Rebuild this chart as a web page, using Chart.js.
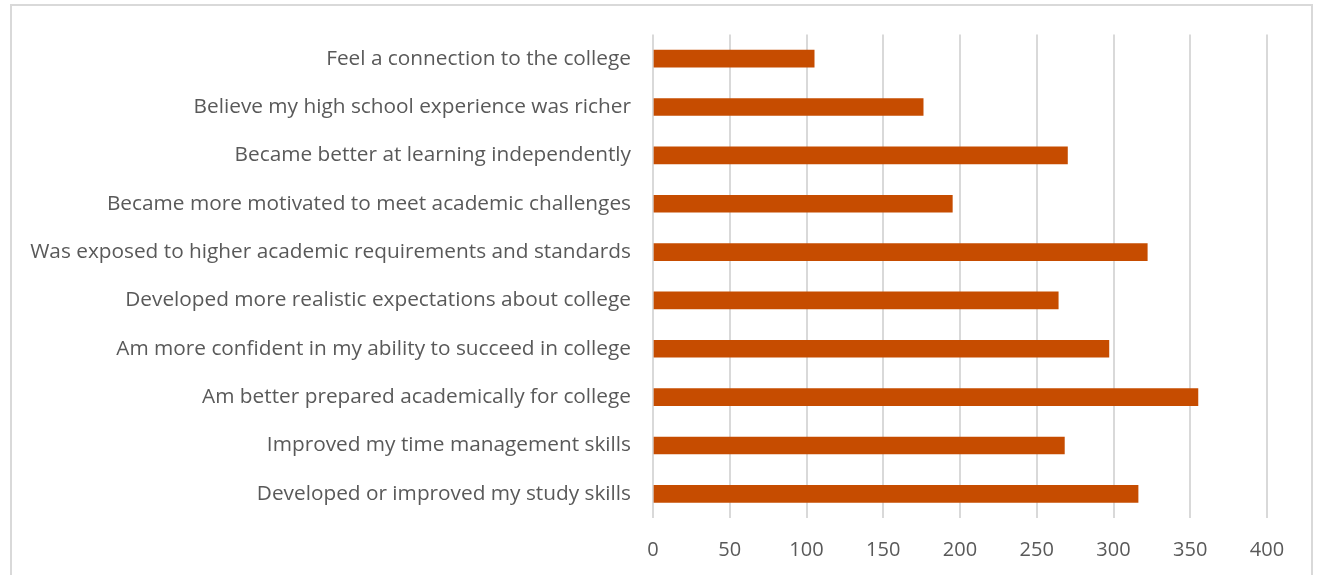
<!DOCTYPE html>
<html>
<head>
<meta charset="utf-8">
<script src="https://cdn.jsdelivr.net/npm/chart.js"></script>
<style>
  html, body { margin: 0; padding: 0; background: #fff; overflow: hidden; }
  #wrap { position: relative; width: 1317px; height: 575px; }
  #frame { position: absolute; left: 10px; top: 4px; width: 1303px; height: 600px; border: 2px solid #d9d9d9; box-sizing: border-box; }
  canvas { position: absolute; left: 0; top: 0; }
</style>
</head>
<body>
<div id="wrap">
  <div id="frame"></div>
  <canvas id="surveyChart" width="1317" height="575"></canvas>
</div>
<script>
var categories = [
  "Feel a connection to the college",
  "Believe my high school experience was richer",
  "Became better at learning independently",
  "Became more motivated to meet academic challenges",
  "Was exposed to higher academic requirements and standards",
  "Developed more realistic expectations about college",
  "Am more confident in my ability to succeed in college",
  "Am better prepared academically for college",
  "Improved my time management skills",
  "Developed or improved my study skills"
];
var responses = [105, 176, 270, 195, 322, 264, 297, 355, 268, 316];
var xMin = 0, xMax = 400, xStep = 50;

var ctx = document.getElementById('surveyChart').getContext('2d');
new Chart(ctx, {
  type: 'bar',
  data: {
    labels: categories,
    datasets: [{
      data: responses,
      backgroundColor: '#c64c00',
      borderWidth: 0,
      barThickness: 17
    }]
  },
  options: {
    indexAxis: 'y',
    responsive: false,
    animation: false,
    layout: { padding: { left: 0, top: 34, right: 50, bottom: 0 } },
    plugins: { legend: { display: false }, tooltip: { enabled: false } },
    scales: {
      x: {
        min: xMin, max: xMax,
        ticks: { stepSize: xStep, color: '#595959', padding: 20, font: { family: 'Open Sans', size: 20 } },
        grid: { color: '#d9d9d9', lineWidth: 2, drawTicks: false },
        border: { display: false },
        afterFit: function (scale) { scale.height = 57; }
      },
      y: {
        ticks: { color: '#595959', padding: 22, font: { family: 'Open Sans', size: 20.8 } },
        grid: { display: false, drawTicks: false },
        border: { display: false },
        afterFit: function (scale) { scale.width = 653; }
      }
    }
  }
});
</script>
</body>
</html>
